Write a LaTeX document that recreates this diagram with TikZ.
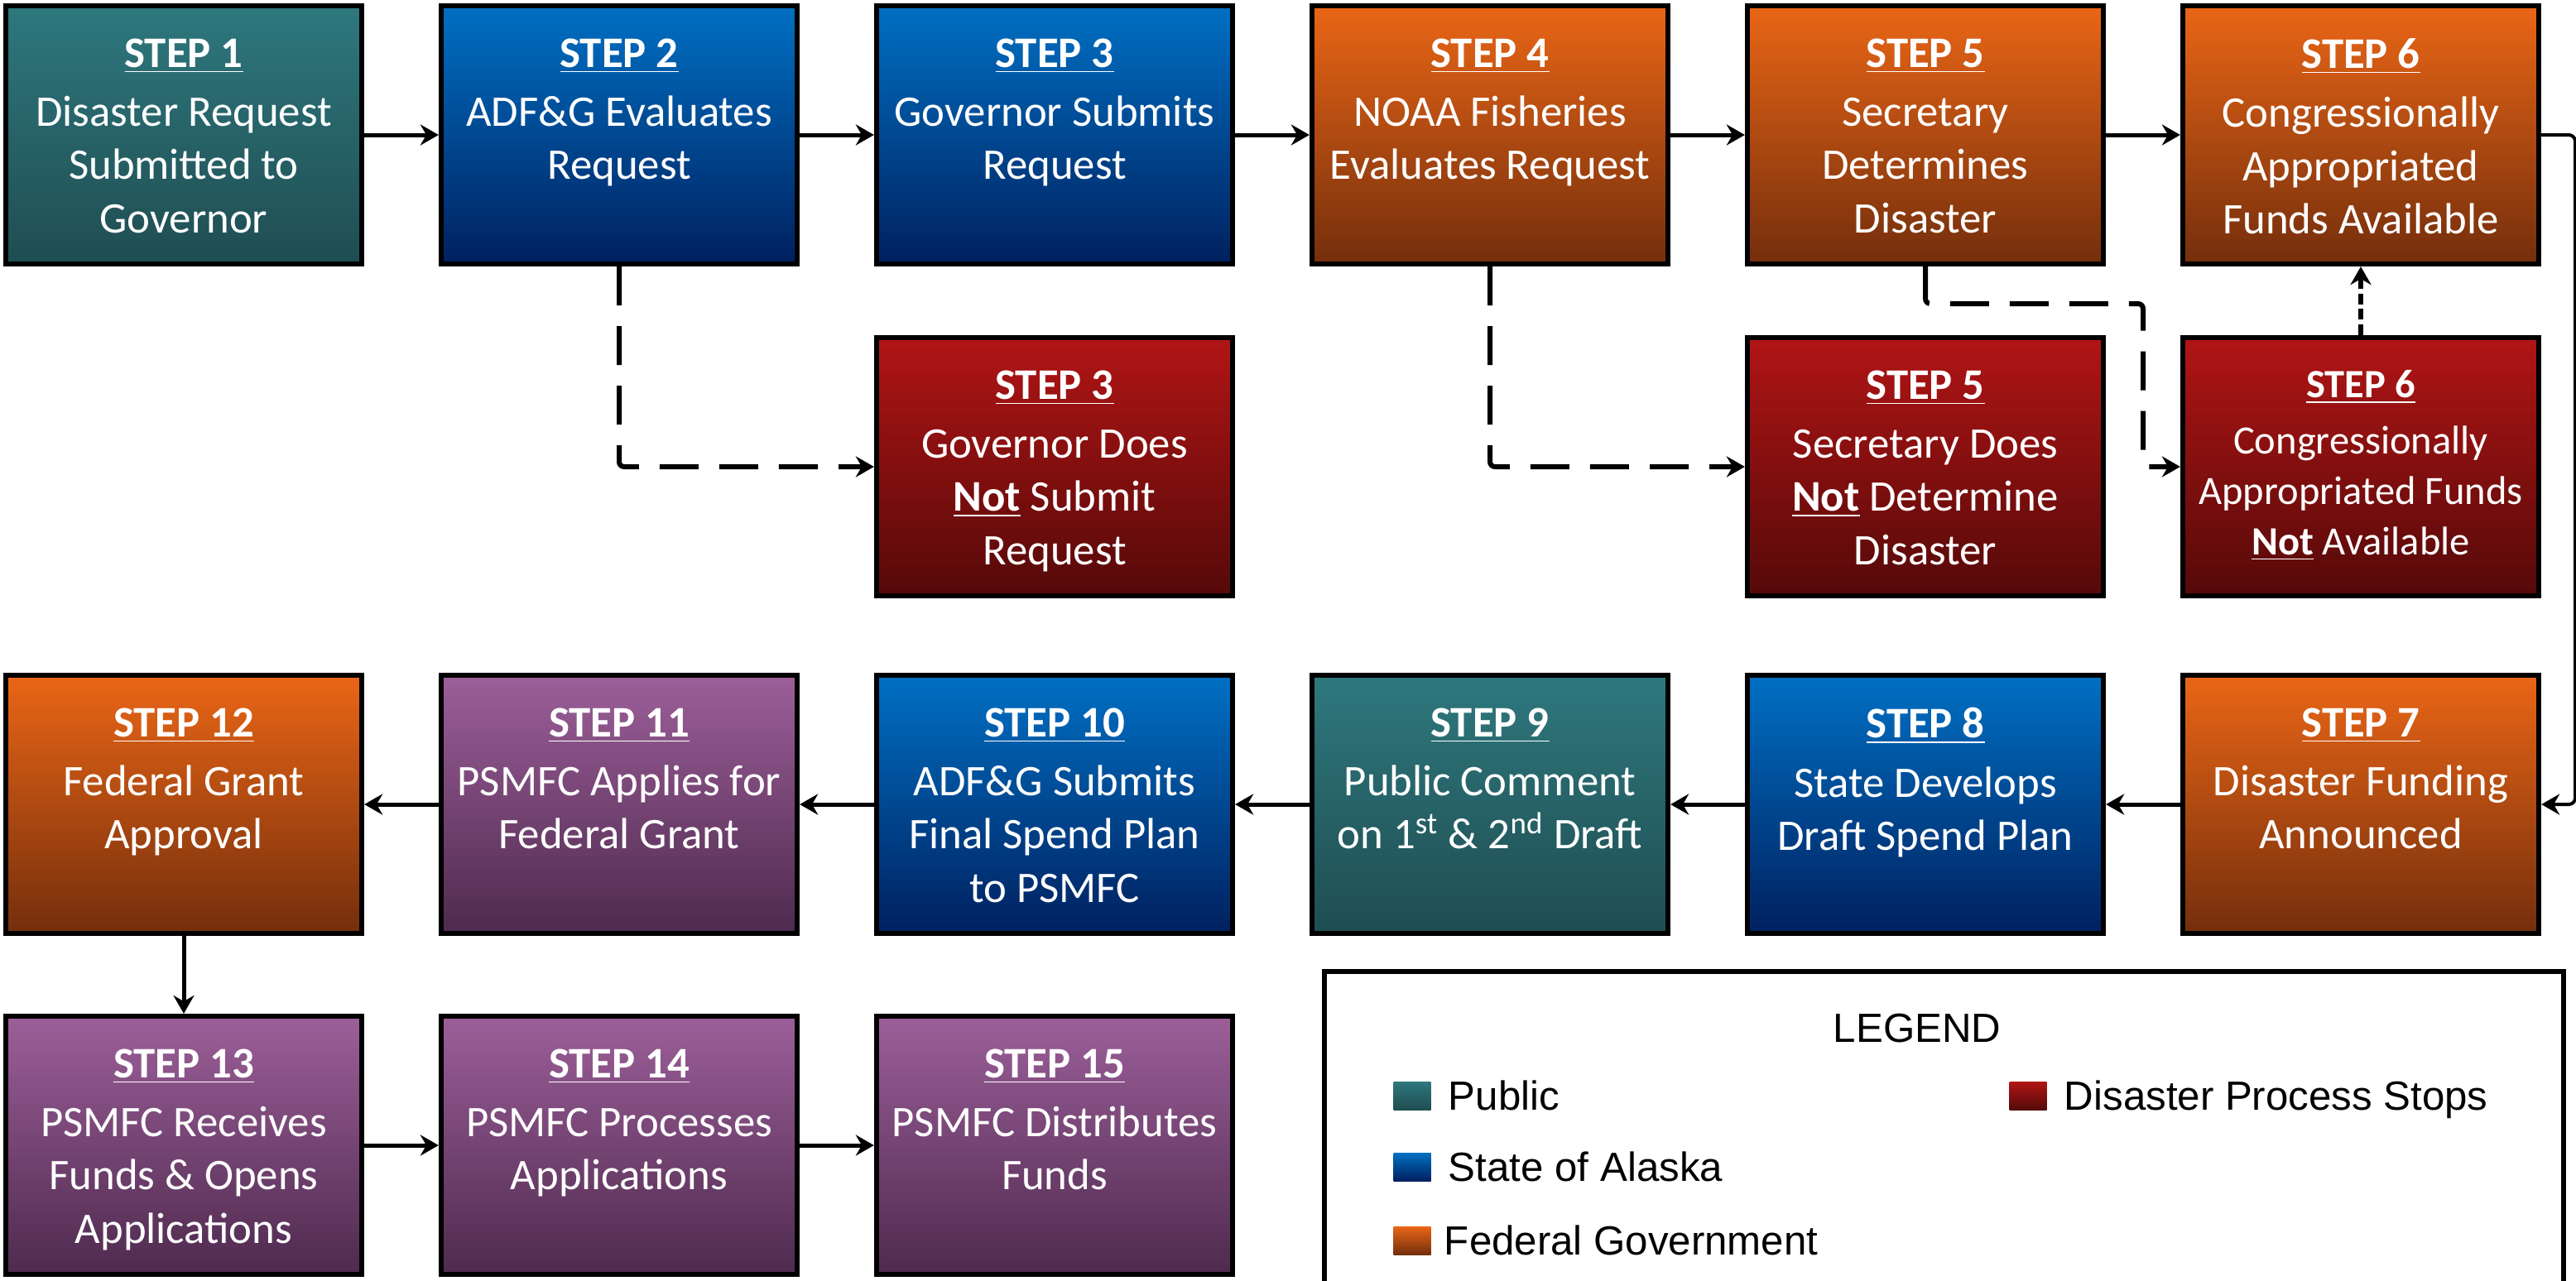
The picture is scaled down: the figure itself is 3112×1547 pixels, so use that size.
\documentclass[tikz,border=0pt]{standalone}
\usepackage{fontspec}
\setmainfont{Carlito}
\newfontfamily\legendfont{Liberation Sans}
\usetikzlibrary{arrows.meta,positioning}

\definecolor{publicTop}{RGB}{46,120,126}
\definecolor{publicBot}{RGB}{31,77,81}
\definecolor{stateTop}{RGB}{0,112,195}
\definecolor{stateBot}{RGB}{0,32,95}
\definecolor{fedTop}{RGB}{234,102,22}
\definecolor{fedBot}{RGB}{116,46,12}
\definecolor{stopTop}{RGB}{177,21,21}
\definecolor{stopBot}{RGB}{85,9,9}
\definecolor{psmfcTop}{RGB}{156,95,153}
\definecolor{psmfcBot}{RGB}{78,42,78}

\newcommand{\steptxt}[2]{\parbox[c][2.33cm][t]{4.3cm}{\centering\textbf{\underline{STEP #1}}\\[0.07cm]#2}}
\newcommand{\nottxt}{\underline{\textbf{Not}}}

\tikzset{
  stepbox/.style={draw=black,line width=0.06cm,rectangle,minimum width=4.3cm,minimum height=3.12cm,
    inner sep=0pt,text=white,font=\fontsize{15pt}{18.3pt}\selectfont},
  public/.style={top color=publicTop,bottom color=publicBot},
  state/.style={top color=stateTop,bottom color=stateBot},
  federal/.style={top color=fedTop,bottom color=fedBot},
  stops/.style={top color=stopTop,bottom color=stopBot},
  psmfc/.style={top color=psmfcTop,bottom color=psmfcBot},
  flow/.style={line width=0.05cm,-{Stealth[length=0.22cm,width=0.25cm]}},
  nogo/.style={flow,line width=0.06cm,dash pattern=on 0.47cm off 0.25cm,rounded corners=0.06cm},
  dotflow/.style={flow,line width=0.06cm,dash pattern=on 0.13cm off 0.055cm},
  feed/.style={line width=0.04cm,rounded corners=0.08cm,-{Stealth[length=0.22cm,width=0.25cm]}},
  swatch/.style={rectangle,minimum width=0.45cm,minimum height=0.34cm,inner sep=0pt},
  legendtext/.style={font=\legendfont\fontsize{14pt}{16pt}\selectfont,inner sep=0pt}
}

\begin{document}
\begin{tikzpicture}[x=0.01cm,y=-0.01cm]
    \useasboundingbox (0,0) rectangle (3112,1547);
    %% Top row
    \node[stepbox,public] (step1) at (222,163) {\steptxt{1}{Disaster Request\\Submitted to\\Governor}};
    \node[stepbox,state] (step2) at (748,163) {\steptxt{2}{ADF\&G Evaluates\\Request}};
    \node[stepbox,state] (step3) at (1274,163) {\steptxt{3}{Governor Submits\\Request}};
    \node[stepbox,federal] (step4) at (1800,163) {\steptxt{4}{NOAA Fisheries\\Evaluates Request}};
    \node[stepbox,federal] (step5) at (2326,163) {\steptxt{5}{Secretary\\Determines\\Disaster}};
    \node[stepbox,federal] (step6) at (2852,163) {\steptxt{6}{Congressionally\\Appropriated\\Funds Available}};
    %% Process stops
    \node[stepbox,stops] (stop3) at (1274,564) {\steptxt{3}{Governor Does\\\nottxt{} Submit\\Request}};
    \node[stepbox,stops] (stop5) at (2326,564) {\steptxt{5}{Secretary Does\\\nottxt{} Determine\\Disaster}};
    \node[stepbox,stops,font=\fontsize{13.8pt}{17.3pt}\selectfont] (stop6) at (2852,564) {\steptxt{6}{Congressionally\\Appropriated Funds\\\nottxt{} Available}};
    %% Third row (right to left)
    \node[stepbox,federal] (step7) at (2852,972) {\steptxt{7}{Disaster Funding\\Announced}};
    \node[stepbox,state] (step8) at (2326,972) {\steptxt{8}{State Develops\\Draft Spend Plan}};
    \node[stepbox,public] (step9) at (1800,972) {\steptxt{9}{Public Comment\\on 1\textsuperscript{st} \& 2\textsuperscript{nd} Draft}};
    \node[stepbox,state] (step10) at (1274,972) {\steptxt{10}{ADF\&G Submits\\Final Spend Plan\\to PSMFC}};
    \node[stepbox,psmfc] (step11) at (748,972) {\steptxt{11}{PSMFC Applies for\\Federal Grant}};
    \node[stepbox,federal] (step12) at (222,972) {\steptxt{12}{Federal Grant\\Approval}};
    %% Bottom row
    \node[stepbox,psmfc] (step13) at (222,1384) {\steptxt{13}{PSMFC Receives\\Funds \& Opens\\Applications}};
    \node[stepbox,psmfc] (step14) at (748,1384) {\steptxt{14}{PSMFC Processes\\Applications}};
    \node[stepbox,psmfc] (step15) at (1274,1384) {\steptxt{15}{PSMFC Distributes\\Funds}};
    %% Main flow
    \draw[flow] (step1) -- (step2);
    \draw[flow] (step2) -- (step3);
    \draw[flow] (step3) -- (step4);
    \draw[flow] (step4) -- (step5);
    \draw[flow] (step5) -- (step6);
    \draw[feed] (step6.east) -- ++(41,0) |- (step7.east);
    \draw[flow] (step7) -- (step8);
    \draw[flow] (step8) -- (step9);
    \draw[flow] (step9) -- (step10);
    \draw[flow] (step10) -- (step11);
    \draw[flow] (step11) -- (step12);
    \draw[flow] (step12) -- (step13);
    \draw[flow] (step13) -- (step14);
    \draw[flow] (step14) -- (step15);
    %% Branches where the process stops
    \coordinate (bend5) at (2589,367);
    \draw[nogo] (step2.south) |- (stop3.west);
    \draw[nogo] (step4.south) |- (stop5.west);
    \draw[nogo] (step5.south) |- (bend5) |- (stop6.west);
    \draw[dotflow] (stop6) -- (step6);
    %% Legend
    \draw[line width=0.06cm] (1600,1174) rectangle (3097,1600);
    \node[legendtext] (legTitle) at (2316,1243) {LEGEND};
    \node[swatch,public] (swPublic) at (1706,1324) {};
    \node[swatch,state] (swState) at (1706,1410) {};
    \node[swatch,federal] (swFederal) at (1706,1499) {};
    \node[swatch,stops] (swStops) at (2450,1324) {};
    \node[legendtext,right=0.2cm of swPublic.south east,anchor=base west] (txtPublic) {Public};
    \node[legendtext,right=0.2cm of swState.south east,anchor=base west] (txtState) {State of Alaska};
    \node[legendtext,right=0.15cm of swFederal.south east,anchor=base west] (txtFederal) {Federal Government};
    \node[legendtext,right=0.2cm of swStops.south east,anchor=base west] (txtStops) {Disaster Process Stops};
\end{tikzpicture}
\end{document}
